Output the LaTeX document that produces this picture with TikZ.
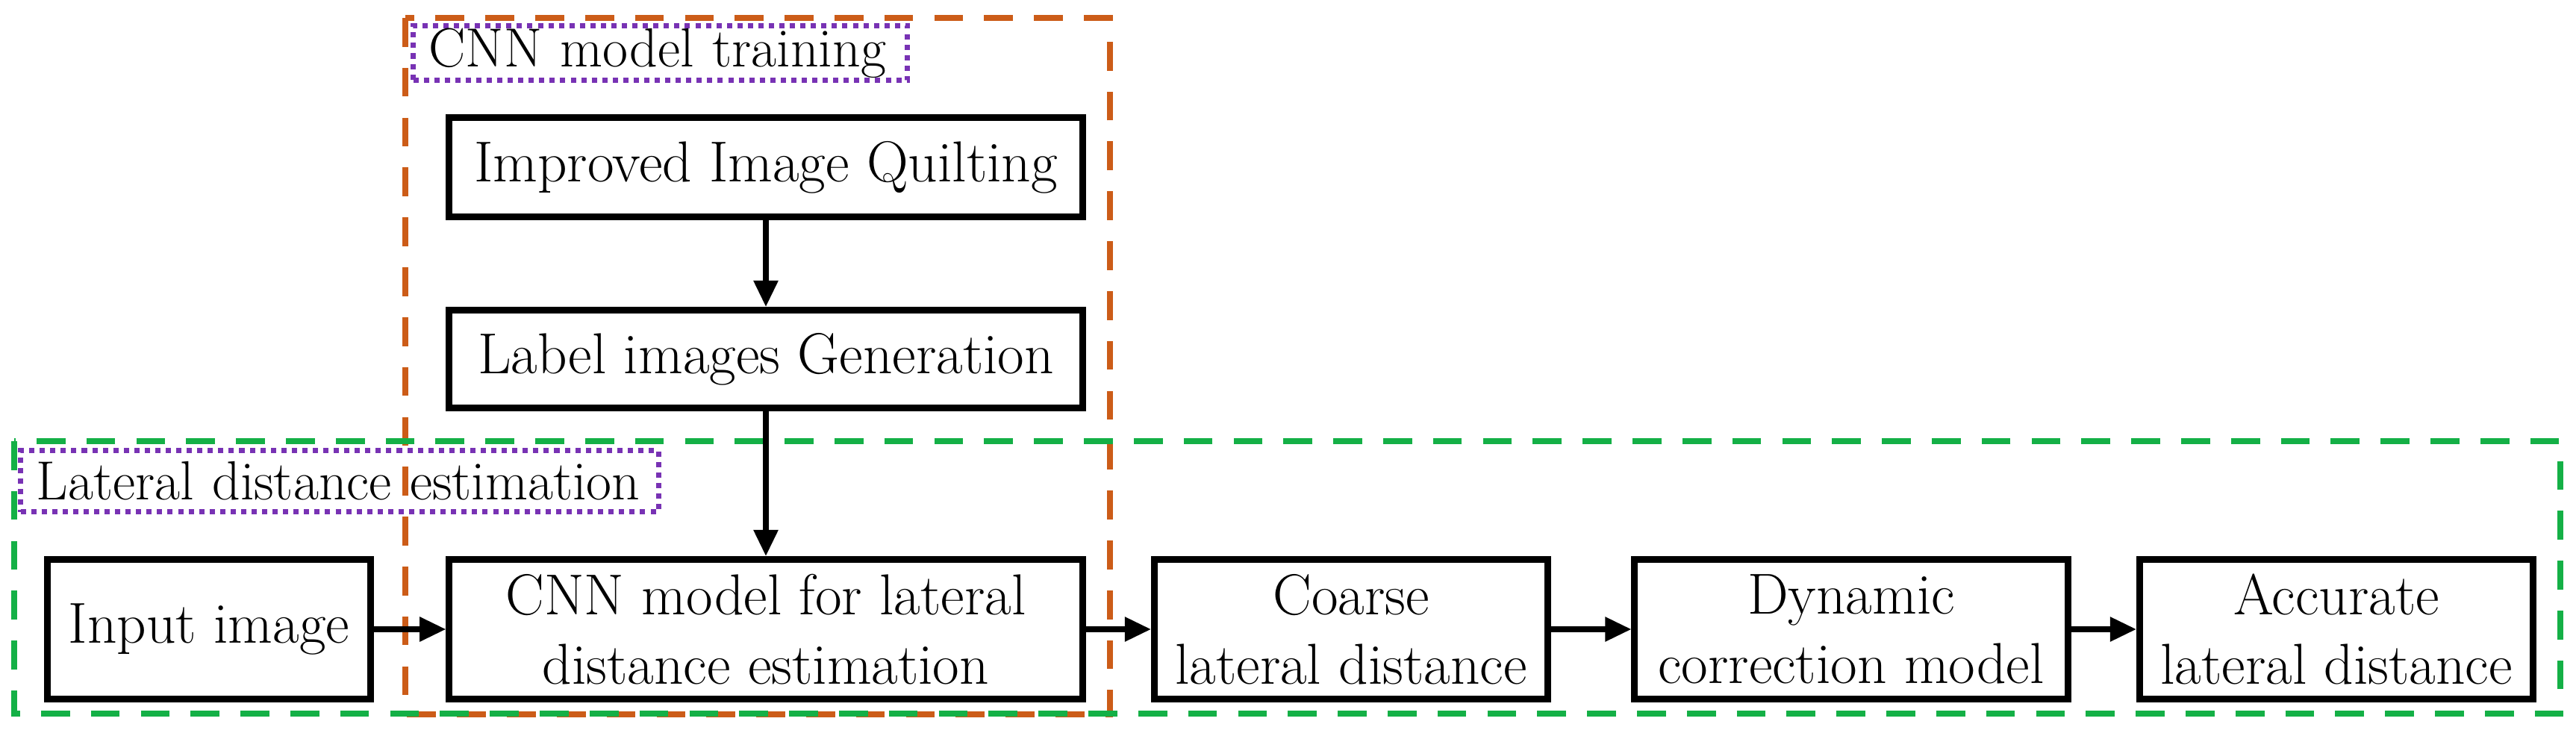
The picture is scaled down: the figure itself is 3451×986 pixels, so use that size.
\documentclass[tikz,border=0pt]{standalone}
\usepackage{mathptmx}
\usetikzlibrary{positioning,arrows.meta}
\definecolor{trainorange}{RGB}{204,92,24}
\definecolor{estgreen}{RGB}{20,176,70}
\definecolor{tagpurple}{RGB}{120,50,180}
\begin{document}
\begin{tikzpicture}[x=0.01cm,y=-0.01cm,
    box/.style={draw,line width=2.5pt,align=center,font=\fontsize{22}{26.5}\selectfont,inner sep=0pt},
    tag/.style={draw=tagpurple,dash pattern=on 2pt off 2pt,line width=2pt,font=\fontsize{21}{25}\selectfont,inner sep=0pt,anchor=north west},
    frame/.style={dash pattern=on 11pt off 8pt,line width=2.5pt},
    flow/.style={-{Triangle[length=10pt,width=9pt]},line width=2pt}
  ]
  \useasboundingbox (0,0) rectangle (3451,986);
  % group frames
  \draw[frame,trainorange] (543,24) rectangle (1487,957);
  \draw[frame,estgreen] (19,591) rectangle (3430,956);
  \node[tag,text width=6.62cm,minimum height=0.73cm,align=left] (ttrain) at (550,31) {\hspace{6pt}CNN model training};
  \node[tag,text width=8.54cm,minimum height=0.82cm,align=left] (test) at (24,600) {\hspace{6pt}Lateral distance estimation};

  % training branch
  \node[box,minimum width=8.48cm,minimum height=1.33cm] (quilt) at (1026,224) {Improved Image Quilting};
  \node[box,minimum width=8.48cm,minimum height=1.31cm] (label) at (1026,481) {Label images Generation};

  % estimation chain
  \node[box,minimum width=8.48cm,minimum height=1.87cm] (cnn) at (1026,843) {CNN model for lateral\\distance estimation};
  \node[box,minimum width=4.33cm,minimum height=1.87cm] (input) at (280,843) {Input image};
  \node[box,minimum width=5.27cm,minimum height=1.87cm] (coarse) at (1810,843) {Coarse\\lateral distance};
  \node[box,minimum width=5.8cm,minimum height=1.87cm] (dyn) at (2480,843) {Dynamic\\correction model};
  \node[box,minimum width=5.27cm,minimum height=1.87cm] (acc) at (3130,843) {Accurate\\lateral distance};

  \draw[flow] (quilt) -- (label);
  \draw[flow] (label) -- (cnn);
  \draw[flow] (input) -- (cnn);
  \draw[flow] (cnn) -- (coarse);
  \draw[flow] (coarse) -- (dyn);
  \draw[flow] (dyn) -- (acc);
\end{tikzpicture}
\end{document}
